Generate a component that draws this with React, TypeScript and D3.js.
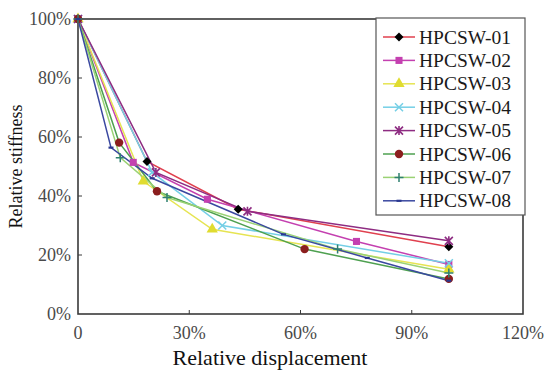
import React from "react";
import * as d3 from "d3";

const seriesNames = ["HPCSW-01","HPCSW-02","HPCSW-03","HPCSW-04","HPCSW-05","HPCSW-06","HPCSW-07","HPCSW-08"];
const s01 = [[0,100],[18.6,51.7],[43.2,35.5],[100,22.8]];
const s02 = [[0,100],[14.9,51.4],[34.9,38.9],[75.1,24.6],[100,16.8]];
const s03 = [[0,100],[17.6,45.0],[36.2,28.7],[100,15.2]];
const s04 = [[0,100],[20.0,48.0],[38.9,30.0],[100,17.2]];
const s05 = [[0,100],[21.0,48.0],[45.7,34.8],[100,24.8]];
const s06 = [[0,100],[11.1,58.1],[21.3,41.6],[61.1,22.0],[100,11.9]];
const s07 = [[0,100],[11.4,53.0],[24.0,39.5],[70.0,22.0],[100,13.9]];
const s08 = [[0,100],[8.9,56.4],[20.0,46.0],[55.4,27.0],[78.0,19.0],[100,11.3]];
const seriesData = [s01,s02,s03,s04,s05,s06,s07,s08];
const lineColors = ["#e0404e","#c440b0","#e6e452","#74cfe6","#8e2c82","#4ea050","#9ad274","#3a48a0"];
const markerColors = ["#000000","#c440b0","#e0dc30","#74cfe6","#8e2c82","#8b1e1e","#2f8070","#2a3890"];
const markerTypes = ["diamond","square","triangle","x","asterisk","circle","plus","dash"];
const xTicks = [0,30,60,90,120];
const xTickLabels = ["0","30%","60%","90%","120%"];
const yTicks = [0,20,40,60,80,100];

const FONT = "'Liberation Serif', 'Times New Roman', serif";

function Marker({ type, x, y, color }: { type: string; x: number; y: number; color: string }) {
  const t = `translate(${x},${y})`;
  if (type === "diamond") return <path transform={t} d="M0,-4.5L4.5,0L0,4.5L-4.5,0Z" fill={color} />;
  if (type === "square") return <path transform={t} d={d3.symbol(d3.symbolSquare, 50)() as string} fill={color} />;
  if (type === "triangle") return <path transform={t} d={d3.symbol(d3.symbolTriangle, 55)() as string} fill={color} />;
  if (type === "circle") return <circle cx={x} cy={y} r={4.2} fill={color} />;
  if (type === "x")
    return <path transform={t} d="M-4,-4L4,4M-4,4L4,-4" stroke={color} strokeWidth={1.5} fill="none" />;
  if (type === "asterisk")
    return <path transform={t} d="M-4,-4L4,4M-4,4L4,-4M0,-4.5L0,4.5" stroke={color} strokeWidth={1.6} fill="none" />;
  if (type === "plus")
    return <path transform={t} d="M-4.5,0L4.5,0M0,-4.5L0,4.5" stroke={color} strokeWidth={1.5} fill="none" />;
  return <path transform={t} d="M-2.5,0L2.5,0" stroke={color} strokeWidth={2.2} fill="none" />;
}

export default function App() {
  const W = 550, H = 377;
  const x0 = 78, x1 = 523, y0 = 314, y1 = 19;
  const x = d3.scaleLinear().domain([0, 120]).range([x0, x1]);
  const y = d3.scaleLinear().domain([0, 100]).range([y0, y1]);
  const line = d3.line<number[]>().x(d => x(d[0])).y(d => y(d[1]));
  const legX = 376, legY = 18, legW = 149, legH = 197;

  return (
    <svg width={W} height={H} style={{ position: "absolute", left: 0, top: 0, background: "#fff" }}>
      <rect x={x0} y={y1} width={x1 - x0} height={y0 - y1} fill="none" stroke="#3a3a3a" strokeWidth={1.6} />
      {xTicks.slice(1, -1).map(t => (
        <line key={"xt" + t} x1={x(t)} x2={x(t)} y1={y0} y2={y0 - 4} stroke="#3a3a3a" strokeWidth={1} />
      ))}
      {yTicks.slice(1, -1).map(t => (
        <line key={"yt" + t} x1={x0} x2={x0 + 4} y1={y(t)} y2={y(t)} stroke="#3a3a3a" strokeWidth={1} />
      ))}
      {xTicks.map((t, i) => (
        <text key={"xl" + t} x={x(t)} y={339} textAnchor="middle" fontFamily={FONT} fontSize={18} fill="#4a4a4a">{xTickLabels[i]}</text>
      ))}
      {yTicks.map(t => (
        <text key={"yl" + t} x={71} y={y(t) + 6} textAnchor="end" fontFamily={FONT} fontSize={18} fill="#4a4a4a">{t}%</text>
      ))}
      <text x={270} y={365} textAnchor="middle" fontFamily={FONT} fontSize={22} fill="#111">Relative displacement</text>
      <text transform={`translate(22,${(y0 + y1) / 2}) rotate(-90)`} textAnchor="middle" fontFamily={FONT} fontSize={18} fill="#111">Relative stiffness</text>
      {seriesData.map((d, i) => (
        <path key={"l" + i} d={line(d) as string} fill="none" stroke={lineColors[i]} strokeWidth={1.5} />
      ))}
      {seriesData.map((d, i) =>
        d.map((p, j) => <Marker key={`m${i}-${j}`} type={markerTypes[i]} x={x(p[0])} y={y(p[1])} color={markerColors[i]} />)
      )}
      <rect x={legX} y={legY} width={legW} height={legH} fill="#fff" stroke="#555" strokeWidth={1.2} />
      {seriesNames.map((n, i) => {
        const cy = 37 + i * 23.4;
        return (
          <g key={"lg" + i}>
            <line x1={383} x2={415} y1={cy} y2={cy} stroke={lineColors[i]} strokeWidth={1.5} />
            <Marker type={markerTypes[i]} x={399} y={cy} color={markerColors[i]} />
            <text x={419} y={cy + 6.5} fontFamily={FONT} fontSize={19.5} fill="#1a1a1a">{n}</text>
          </g>
        );
      })}
    </svg>
  );
}
